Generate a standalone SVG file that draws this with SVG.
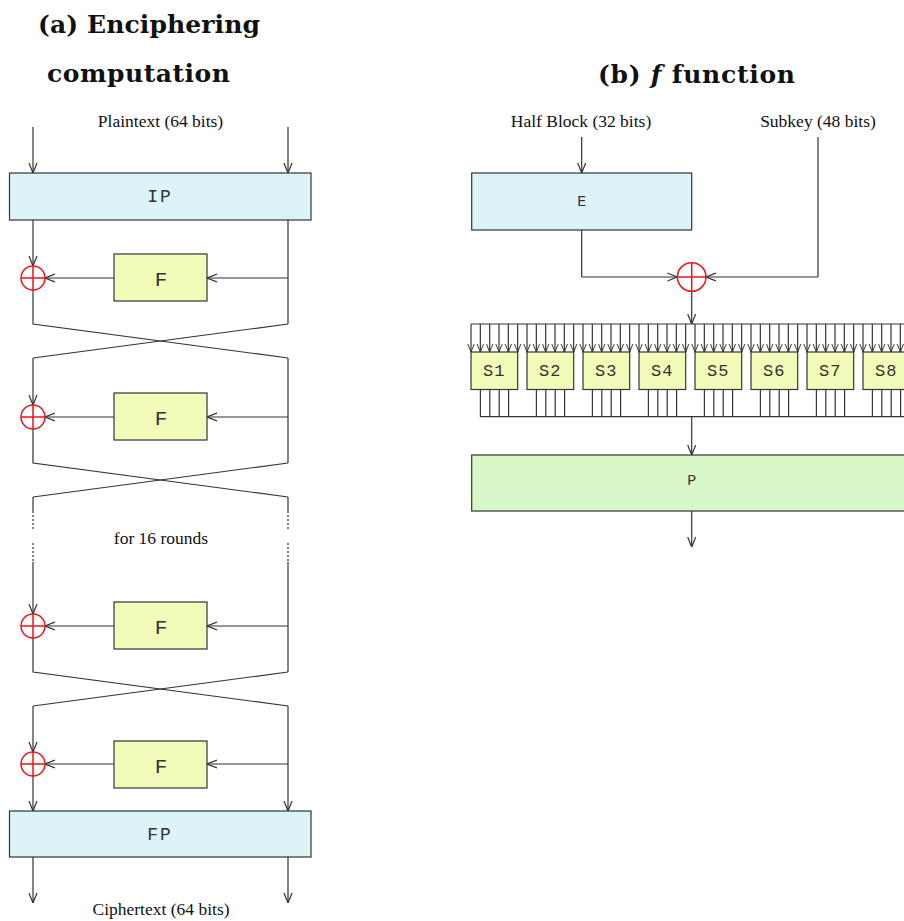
<svg xmlns="http://www.w3.org/2000/svg" width="904" height="921" viewBox="0 0 904 921">
<style>
.t{font-family:"Liberation Serif",serif;font-size:17.5px;fill:#111;text-anchor:middle}
.h{font-family:"DejaVu Serif",serif;font-weight:bold;font-size:25px;fill:#111}
.m{font-family:"Liberation Mono",monospace;fill:#333;text-anchor:middle}
.w{stroke:#333;stroke-width:1.2;fill:none}
.wa{stroke:#333;stroke-width:1.2;fill:none;marker-end:url(#ar)}
.d{stroke:#333;stroke-width:1.2;fill:none;stroke-dasharray:2,2}
.cy{fill:#dcf4f8;stroke:#333;stroke-width:1.2}
.ye{fill:#f2fbb8;stroke:#333;stroke-width:1.2}
.gr{fill:#d8f8c8;stroke:#333;stroke-width:1.2}
.x{fill:#fff;stroke:#e8161c;stroke-width:1.5}
</style>
<defs>
<marker id="ar" viewBox="0 0 10 10" refX="10" refY="5" markerWidth="10" markerHeight="10" markerUnits="userSpaceOnUse" orient="auto">
<path d="M0,1 L10,5 L0,9" fill="none" stroke="#333" stroke-width="1.2"/>
</marker>
<marker id="as" viewBox="0 0 10 10" refX="10" refY="5" markerWidth="8" markerHeight="8" markerUnits="userSpaceOnUse" orient="auto">
<path d="M0,1 L10,5 L0,9" fill="none" stroke="#333" stroke-width="1.2"/>
</marker>
<g id="xor12"><circle r="12" class="x"/><path d="M-12,0H12M0,-12V12" stroke="#e8161c" stroke-width="1.5"/></g>
</defs>
<rect width="904" height="921" fill="#fff"/>

<text class="h" x="38" y="33" textLength="222">(a) Enciphering</text>
<text class="h" x="47" y="82" textLength="183">computation</text>
<text class="h" x="598" y="83" textLength="197">(b) <tspan font-style="italic">f</tspan> function</text>

<text class="t" x="160.5" y="127">Plaintext (64 bits)</text>
<text class="t" x="161" y="544">for 16 rounds</text>
<text class="t" x="161" y="915">Ciphertext (64 bits)</text>

<g id="connectors-left">
<path class="wa" d="M33,127V173"/>
<path class="wa" d="M288,127V173"/>
<path class="wa" d="M33,220V266"/>
<path class="w" d="M288,220V324"/>
<path class="wa" d="M288,278H207"/>
<path class="wa" d="M114,278H45"/>
<path class="w" d="M33,290V324L288,358"/>
<path class="w" d="M288,324L33,358"/>
<path class="wa" d="M33,358V405"/>
<path class="w" d="M288,358V463"/>
<path class="wa" d="M288,417H207"/>
<path class="wa" d="M114,417H45"/>
<path class="w" d="M33,429V463L288,497"/>
<path class="w" d="M288,463L33,497"/>
<path class="w" d="M33,497V511"/>
<path class="d" d="M33,511V530"/>
<path class="d" d="M33,543V562"/>
<path class="w" d="M288,497V511"/>
<path class="d" d="M288,511V530"/>
<path class="d" d="M288,543V562"/>
<path class="wa" d="M33,562V614"/>
<path class="w" d="M288,562V672"/>
<path class="wa" d="M288,626H207"/>
<path class="wa" d="M114,626H45"/>
<path class="w" d="M33,638V672L288,706"/>
<path class="w" d="M288,672L33,706"/>
<path class="wa" d="M33,706V752"/>
<path class="wa" d="M288,706V811"/>
<path class="wa" d="M288,764H207"/>
<path class="wa" d="M114,764H45"/>
<path class="wa" d="M33,776V811"/>
<path class="wa" d="M33,857V903"/>
<path class="wa" d="M288,857V903"/>
</g>

<g id="IP"><rect class="cy" x="9.5" y="173" width="301.5" height="47"/><text class="m" x="160" y="202" font-size="18" letter-spacing="2" fill="#2f4f4f">IP</text></g>
<g id="F1"><rect class="ye" x="114" y="254" width="93" height="47"/><text class="m" x="161" y="286" font-size="21">F</text></g>
<g id="F2"><rect class="ye" x="114" y="393" width="93" height="47"/><text class="m" x="161" y="425" font-size="21">F</text></g>
<g id="F3"><rect class="ye" x="114" y="602" width="93" height="47"/><text class="m" x="161" y="634" font-size="21">F</text></g>
<g id="F4"><rect class="ye" x="114" y="741" width="93" height="47"/><text class="m" x="161" y="773" font-size="21">F</text></g>
<g id="XOR1"><use href="#xor12" x="33" y="278"/></g>
<g id="XOR2"><use href="#xor12" x="33" y="417"/></g>
<g id="XOR3"><use href="#xor12" x="33" y="626"/></g>
<g id="XOR4"><use href="#xor12" x="33" y="764"/></g>
<g id="FP"><rect class="cy" x="9.5" y="811" width="301.5" height="46"/><text class="m" x="160" y="840" font-size="18" letter-spacing="2" fill="#2f4f4f">FP</text></g>

<text class="t" x="581" y="127">Half Block (32 bits)</text>
<text class="t" x="818" y="127">Subkey (48 bits)</text>

<g id="connectors-right">
<path class="wa" d="M581.7,137V173"/>
<path class="w" d="M581.7,230V277"/>
<path class="wa" d="M581.7,277H677.4"/>
<path class="w" d="M818,137V277"/>
<path class="wa" d="M818,277H706"/>
<path class="wa" d="M691.7,291.3V324"/>
<path class="w" d="M471,324H904"/>
<g style="stroke:#333;stroke-width:1.2;fill:none;marker-end:url(#as)">
<path d="M471,324V352"/><path d="M480.33,324V352"/><path d="M489.67,324V352"/><path d="M499,324V352"/><path d="M508.33,324V352"/><path d="M517.67,324V352"/>
<path d="M527,324V352"/><path d="M536.33,324V352"/><path d="M545.67,324V352"/><path d="M555,324V352"/><path d="M564.33,324V352"/><path d="M573.67,324V352"/>
<path d="M583,324V352"/><path d="M592.33,324V352"/><path d="M601.67,324V352"/><path d="M611,324V352"/><path d="M620.33,324V352"/><path d="M629.67,324V352"/>
<path d="M639,324V352"/><path d="M648.33,324V352"/><path d="M657.67,324V352"/><path d="M667,324V352"/><path d="M676.33,324V352"/><path d="M685.67,324V352"/>
<path d="M695,324V352"/><path d="M704.33,324V352"/><path d="M713.67,324V352"/><path d="M723,324V352"/><path d="M732.33,324V352"/><path d="M741.67,324V352"/>
<path d="M751,324V352"/><path d="M760.33,324V352"/><path d="M769.67,324V352"/><path d="M779,324V352"/><path d="M788.33,324V352"/><path d="M797.67,324V352"/>
<path d="M807,324V352"/><path d="M816.33,324V352"/><path d="M825.67,324V352"/><path d="M835,324V352"/><path d="M844.33,324V352"/><path d="M853.67,324V352"/>
<path d="M863,324V352"/><path d="M872.33,324V352"/><path d="M881.67,324V352"/><path d="M891,324V352"/><path d="M900.33,324V352"/><path d="M909.67,324V352"/>
</g>
<path class="w" d="M480.4,389.5V416.7M489.8,389.5V416.7M499.2,389.5V416.7M508.6,389.5V416.7M536.4,389.5V416.7M545.8,389.5V416.7M555.2,389.5V416.7M564.6,389.5V416.7M592.4,389.5V416.7M601.8,389.5V416.7M611.2,389.5V416.7M620.6,389.5V416.7M648.4,389.5V416.7M657.8,389.5V416.7M667.2,389.5V416.7M676.6,389.5V416.7M704.4,389.5V416.7M713.8,389.5V416.7M723.2,389.5V416.7M732.6,389.5V416.7M760.4,389.5V416.7M769.8,389.5V416.7M779.2,389.5V416.7M788.6,389.5V416.7M816.4,389.5V416.7M825.8,389.5V416.7M835.2,389.5V416.7M844.6,389.5V416.7M872.4,389.5V416.7M881.8,389.5V416.7M891.2,389.5V416.7M900.6,389.5V416.7"/>
<path class="w" d="M480.4,416.7H904"/>
<path class="wa" d="M691.7,416.7V455"/>
<path class="wa" d="M691.7,511V547"/>
</g>

<g id="E"><rect class="cy" x="471.7" y="173" width="220" height="57"/><text class="m" x="581.7" y="206" font-size="15">E</text></g>
<g id="XOR5"><circle cx="691.7" cy="277" r="14.3" class="x"/><path d="M677.4,277H706M691.7,262.7V291.3" stroke="#e8161c" stroke-width="1.5"/></g>
<g id="S1"><rect class="ye" x="471" y="352" width="46.7" height="37.5"/><text class="m" x="494.3" y="376" font-size="17" letter-spacing="1">S1</text></g>
<g id="S2"><rect class="ye" x="527" y="352" width="46.7" height="37.5"/><text class="m" x="550.3" y="376" font-size="17" letter-spacing="1">S2</text></g>
<g id="S3"><rect class="ye" x="583" y="352" width="46.7" height="37.5"/><text class="m" x="606.3" y="376" font-size="17" letter-spacing="1">S3</text></g>
<g id="S4"><rect class="ye" x="639" y="352" width="46.7" height="37.5"/><text class="m" x="662.3" y="376" font-size="17" letter-spacing="1">S4</text></g>
<g id="S5"><rect class="ye" x="695" y="352" width="46.7" height="37.5"/><text class="m" x="718.3" y="376" font-size="17" letter-spacing="1">S5</text></g>
<g id="S6"><rect class="ye" x="751" y="352" width="46.7" height="37.5"/><text class="m" x="774.3" y="376" font-size="17" letter-spacing="1">S6</text></g>
<g id="S7"><rect class="ye" x="807" y="352" width="46.7" height="37.5"/><text class="m" x="830.3" y="376" font-size="17" letter-spacing="1">S7</text></g>
<g id="S8"><rect class="ye" x="863" y="352" width="46.7" height="37.5"/><text class="m" x="886.3" y="376" font-size="17" letter-spacing="1">S8</text></g>
<g id="P"><rect class="gr" x="471.7" y="455" width="440" height="56"/><text class="m" x="691.7" y="485" font-size="15">P</text></g>
</svg>
